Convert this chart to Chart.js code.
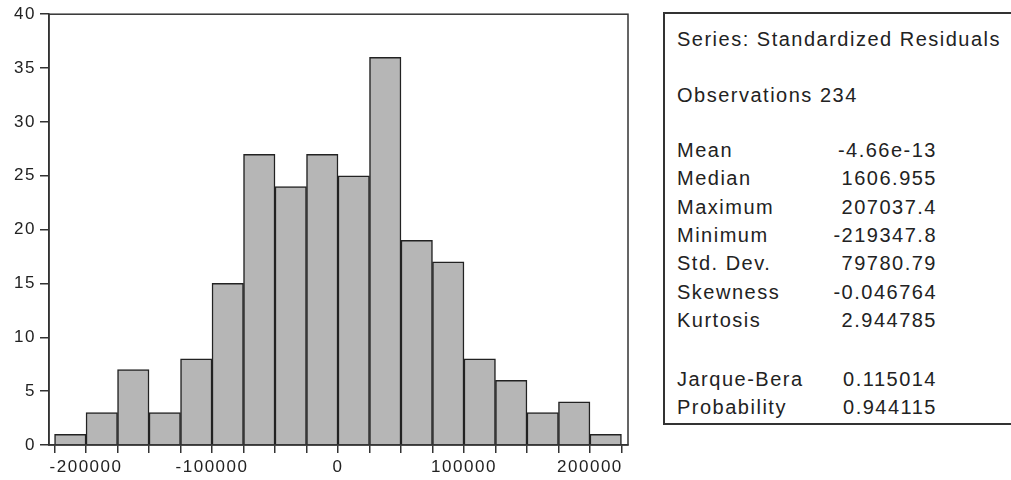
<!DOCTYPE html>
<html lang="en">
<head>
    <meta charset="UTF-8">
    <title>Standardized Residuals Histogram</title>
    <script src="https://cdn.jsdelivr.net/npm/chart.js"></script>
    <style>
        body { margin: 0; width: 1011px; height: 480px; overflow: hidden; background: #fff; font-family: "Liberation Sans", Arial, sans-serif; color: #222; }
        .chart-box { position: absolute; left: 0; top: 0; width: 650px; height: 480px; }
        .stats { position: absolute; left: 663px; top: 12px; width: 400px; height: 409px; border: 2px solid #333; }
        .row { position: absolute; height: 24px; line-height: 24px; font-size: 20px; letter-spacing: 1.5px; white-space: nowrap; }
        .val { text-align: right; width: 200px; }
    </style>
</head>
<body>
    <div class="chart-box"><canvas id="hist"></canvas></div>
    <div class="stats" id="stats"></div>

    <script>
        // histogram bins (centres) and counts
        const binCenters = [-212500, -187500, -162500, -137500, -112500, -87500, -62500, -37500, -12500,
                            12500, 37500, 62500, 87500, 112500, 137500, 162500, 187500, 212500];
        const counts = [1, 3, 7, 3, 8, 15, 27, 24, 27, 25, 36, 19, 17, 8, 6, 3, 4, 1];
        // tick marks at every bin edge, labels on some of them
        const xTickValues = [-225000, -200000, -175000, -150000, -125000, -100000, -75000, -50000, -25000, 0,
                             25000, 50000, 75000, 100000, 125000, 150000, 175000, 200000, 225000];
        const xLabelValues = [-200000, -100000, 0, 100000, 200000];

        // descriptive statistics panel
        const seriesTitle = 'Series: Standardized Residuals';
        const obsText = 'Observations 234';
        const statLabels = ['Mean', 'Median', 'Maximum', 'Minimum', 'Std. Dev.', 'Skewness', 'Kurtosis'];
        const statValues = ['-4.66e-13', '1606.955', '207037.4', '-219347.8', '79780.79', '-0.046764', '2.944785'];
        const testLabels = ['Jarque-Bera', 'Probability'];
        const testValues = ['0.115014', '0.944115'];

        function addRow(text, top, left, cls) {
            const d = document.createElement('div');
            d.className = 'row' + (cls ? ' ' + cls : '');
            d.style.top = (top - 12 - 12) + 'px';
            d.style.left = (left - 665) + 'px';
            d.textContent = text;
            document.getElementById('stats').appendChild(d);
        }

        addRow(seriesTitle, 37, 677);
        addRow(obsText, 93, 677);
        statLabels.forEach((l, i) => {
            addRow(l, 148 + i * 28.3, 677);
            addRow(statValues[i], 148 + i * 28.3, 737, 'val');
        });
        testLabels.forEach((l, i) => {
            addRow(l, 377 + i * 28, 677);
            addRow(testValues[i], 377 + i * 28, 737, 'val');
        });

        const spacing = {
            id: 'spacing',
            beforeLayout(chart) { chart.ctx.letterSpacing = '1.5px'; },
            beforeDraw(chart) { chart.ctx.letterSpacing = '1.5px'; }
        };

        const frame = {
            id: 'frame',
            afterDraw(chart) {
                const a = chart.chartArea, ctx = chart.ctx;
                ctx.save();
                ctx.strokeStyle = '#333';
                ctx.lineWidth = 1.5;
                ctx.strokeRect(a.left, a.top, a.right - a.left, a.bottom - a.top);
                ctx.restore();
            }
        };

        const tickFont = { family: 'Liberation Sans', size: 17 };

        new Chart(document.getElementById('hist'), {
            type: 'bar',
            data: {
                datasets: [{
                    data: binCenters.map((c, i) => ({ x: c, y: counts[i] })),
                    backgroundColor: '#b6b6b6',
                    borderColor: '#222',
                    borderWidth: 1.5,
                    barPercentage: 1,
                    categoryPercentage: 1
                }]
            },
            options: {
                responsive: true,
                maintainAspectRatio: false,
                animation: false,
                layout: { padding: { top: 13, right: 22, left: 0, bottom: 0 } },
                plugins: { legend: { display: false }, tooltip: { enabled: false } },
                scales: {
                    x: {
                        type: 'linear',
                        offset: false,
                        min: -229400,
                        max: 230200,
                        afterBuildTicks: s => { s.ticks = xTickValues.map(v => ({ value: v })); },
                        afterFit: s => { s.height = 35; },
                        grid: { offset: false, drawOnChartArea: false, tickLength: 8, color: '#333', lineWidth: 1.5 },
                        border: { display: true, color: '#333', width: 1.5 },
                        ticks: {
                            autoSkip: false,
                            maxRotation: 0,
                            padding: 4,
                            color: '#222',
                            font: tickFont,
                            callback: v => xLabelValues.includes(v) ? String(v) : ''
                        }
                    },
                    y: {
                        min: 0,
                        max: 40,
                        afterFit: s => { s.width = 49; },
                        grid: { drawOnChartArea: false, tickLength: 9, color: '#333', lineWidth: 1.5 },
                        border: { display: true, color: '#333', width: 1.5 },
                        ticks: {
                            stepSize: 5,
                            padding: 4,
                            color: '#222',
                            font: tickFont
                        }
                    }
                }
            },
            plugins: [spacing, frame]
        });
    </script>
</body>
</html>
